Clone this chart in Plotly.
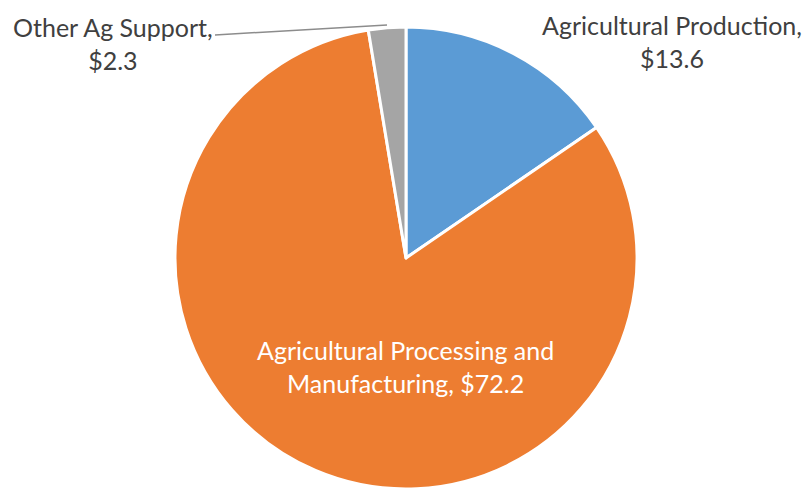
import plotly.graph_objects as go

categories = ["Agricultural Production", "Agricultural Processing and Manufacturing", "Other Ag Support"]
values = [13.6, 72.2, 2.3]
colors = ["#5B9BD5", "#ED7D31", "#A5A5A5"]

W, H = 811, 489
FONT = "Lato, 'Open Sans', sans-serif"
FS = 25

fig = go.Figure(go.Pie(
    labels=categories,
    values=values,
    sort=False,
    direction="clockwise",
    rotation=0,
    marker=dict(colors=colors, line=dict(color="white", width=3)),
    textinfo="none",
    hoverinfo="label+value",
    showlegend=False,
    domain=dict(x=[174 / W, 638 / W], y=[0 / H, 462 / H]),
))

def fmt(v):
    return f"${v:.1f}"

annotations = [
    dict(x=672 / W, y=1 - 41 / H, text=f"{categories[0]},<br>{fmt(values[0])}",
         font=dict(color="#404040", size=FS, family=FONT)),
    dict(x=113 / W, y=1 - 43 / H, text=f"Other Ag Support,<br>{fmt(values[2])}",
         font=dict(color="#404040", size=FS, family=FONT)),
    dict(x=405 / W, y=1 - 366 / H, text=f"Agricultural Processing and<br>Manufacturing, {fmt(values[1])}",
         font=dict(color="white", size=FS, family=FONT)),
]
for a in annotations:
    a.update(xref="paper", yref="paper", showarrow=False, xanchor="center", yanchor="middle")

fig.update_layout(
    width=W, height=H,
    margin=dict(l=0, r=0, t=0, b=0),
    paper_bgcolor="white",
    annotations=annotations,
    shapes=[dict(type="line", xref="paper", yref="paper",
                 x0=215 / W, y0=1 - 35 / H, x1=387 / W, y1=1 - 25 / H,
                 line=dict(color="#8C8C8C", width=1.5))],
)

fig.write_html("out.html")
